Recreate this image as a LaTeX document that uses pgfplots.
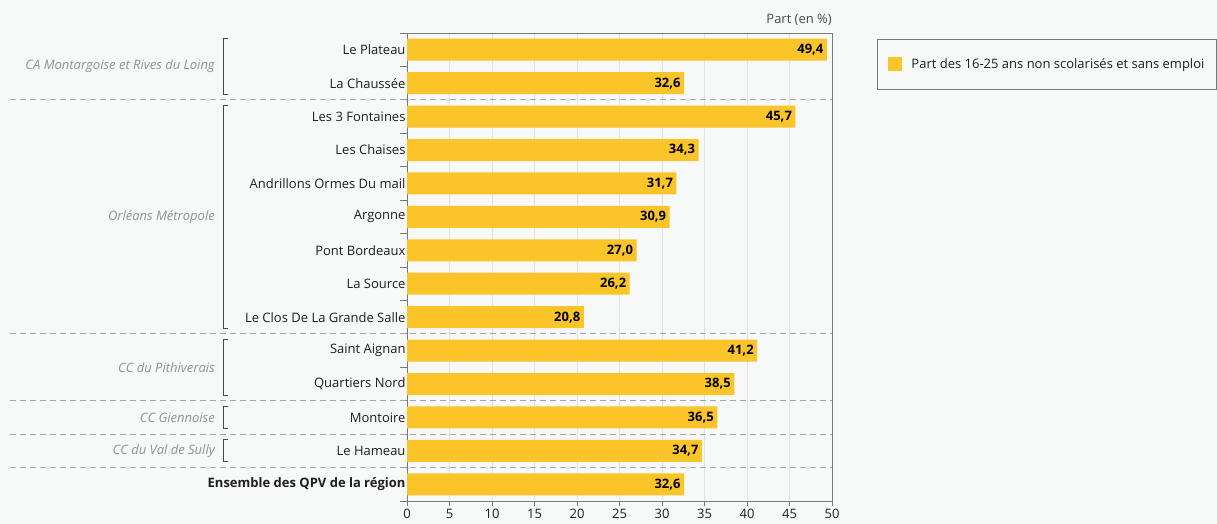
\documentclass[border=0pt]{standalone}
\usepackage{fontspec}
\setmainfont{Open Sans}
\usepackage{pgfplots}
\pgfplotsset{compat=1.18}
\definecolor{bg}{RGB}{247,248,248}
\definecolor{barc}{RGB}{251,197,42}
\definecolor{grp}{RGB}{145,145,145}
\definecolor{axc}{RGB}{120,120,120}
\definecolor{brk}{RGB}{70,70,70}
\definecolor{gridc}{RGB}{226,226,226}
\definecolor{dashc}{RGB}{165,165,165}
\definecolor{txt}{RGB}{30,30,30}
\begin{document}
\begin{tikzpicture}[font=\fontsize{13bp}{15bp}\selectfont]
\fill[bg] (0,0) rectangle (1217bp,524bp);
\path[use as bounding box] (0,0) rectangle (1217bp,524bp);
\begin{axis}[
  at={(407bp,23bp)}, anchor=south west,
  scale only axis, width=425bp, height=468bp,
  xbar, bar width=22bp,
  xmin=0, xmax=50, ymin=-0.5, ymax=13.5, y dir=reverse,
  clip=false,
  xtick={0,5,...,50},
  ytick={0,...,13},
  xtick pos=bottom, ytick pos=left,
  yticklabels={Le Plateau, La Chaussée, Les 3 Fontaines, Les Chaises, Andrillons Ormes Du mail, Argonne, Pont Bordeaux, La Source, Le Clos De La Grande Salle, Saint Aignan, Quartiers Nord, Montoire, Le Hameau, {\bfseries Ensemble des QPV de la région}},
  minor ytick={-0.5,0.5,...,13.5},
  tick align=outside, major tick length=5bp, minor tick length=7bp,
  major y tick style={draw=none},
  minor y tick style={draw=axc, line width=1bp},
  major x tick style={draw=axc, line width=1bp},
  xmajorgrids, major grid style={draw=gridc, line width=0.8bp},
  axis line style={draw=axc, line width=1bp},
  /pgf/number format/assume math mode=true,
  ticklabel style={font=\fontsize{13bp}{15bp}\selectfont, text=txt},
  yticklabel style={xshift=7bp},
  xticklabel style={yshift=0bp},
  point meta=x,
  nodes near coords={\pgfmathprintnumber[fixed, fixed zerofill, precision=1, use comma]{\pgfplotspointmeta}},
  nodes near coords style={anchor=east, font=\fontsize{13bp}{15bp}\selectfont\bfseries, text=black, xshift=0bp},
  legend style={at={(1.1059,0.987)}, anchor=north west, draw=axc, line width=1bp, fill=none,
    inner xsep=10bp, inner ysep=17bp, font=\fontsize{13bp}{15bp}\selectfont, text=txt,
    /tikz/every odd column/.append style={column sep=8bp}},
  legend image code/.code={\fill[barc] (0bp,-7bp) rectangle (14bp,7bp);},
]
\addplot[fill=barc, draw=none] coordinates {
(49.4,0) (32.6,1) (45.7,2) (34.3,3) (31.7,4) (30.9,5) (27.0,6) (26.2,7) (20.8,8) (41.2,9) (38.5,10) (36.5,11) (34.7,12) (32.6,13)};
\addlegendentry{Part des 16-25 ans non scolarisés et sans emploi}
% separators
\pgfplotsinvokeforeach{1.5,8.5,10.5,11.5,12.5}{
  \draw[dashc, line width=1bp, dash pattern=on 6bp off 4bp] (axis cs:-46.7,#1) -- (axis cs:50,#1);
}
% brackets
\draw[brk, line width=1bp] (axis cs:-21.0,-0.33) -- (axis cs:-21.55,-0.33) -- (axis cs:-21.55,1.33) -- (axis cs:-21.0,1.33);
\draw[brk, line width=1bp] (axis cs:-21.0,1.67) -- (axis cs:-21.55,1.67) -- (axis cs:-21.55,8.33) -- (axis cs:-21.0,8.33);
\draw[brk, line width=1bp] (axis cs:-21.0,8.67) -- (axis cs:-21.55,8.67) -- (axis cs:-21.55,10.33) -- (axis cs:-21.0,10.33);
\draw[brk, line width=1bp] (axis cs:-21.0,10.67) -- (axis cs:-21.55,10.67) -- (axis cs:-21.55,11.33) -- (axis cs:-21.0,11.33);
\draw[brk, line width=1bp] (axis cs:-21.0,11.67) -- (axis cs:-21.55,11.67) -- (axis cs:-21.55,12.33) -- (axis cs:-21.0,12.33);
\node[anchor=east, text=grp, font=\fontsize{13bp}{15bp}\selectfont\itshape] at (axis cs:-22.2,0.5) {CA Montargoise et Rives du Loing};
\node[anchor=east, text=grp, font=\fontsize{13bp}{15bp}\selectfont\itshape] at (axis cs:-22.2,5) {Orléans Métropole};
\node[anchor=east, text=grp, font=\fontsize{13bp}{15bp}\selectfont\itshape] at (axis cs:-22.2,9.5) {CC du Pithiverais};
\node[anchor=east, text=grp, font=\fontsize{13bp}{15bp}\selectfont\itshape] at (axis cs:-22.2,11) {CC Giennoise};
\node[anchor=east, text=grp, font=\fontsize{13bp}{15bp}\selectfont\itshape] at (axis cs:-22.2,12) {CC du Val de Sully};
\node[anchor=south east, inner sep=0pt, text=txt!80!white, yshift=7bp] at (rel axis cs:1,1) {Part (en \%)};
\end{axis}
\end{tikzpicture}
\end{document}
